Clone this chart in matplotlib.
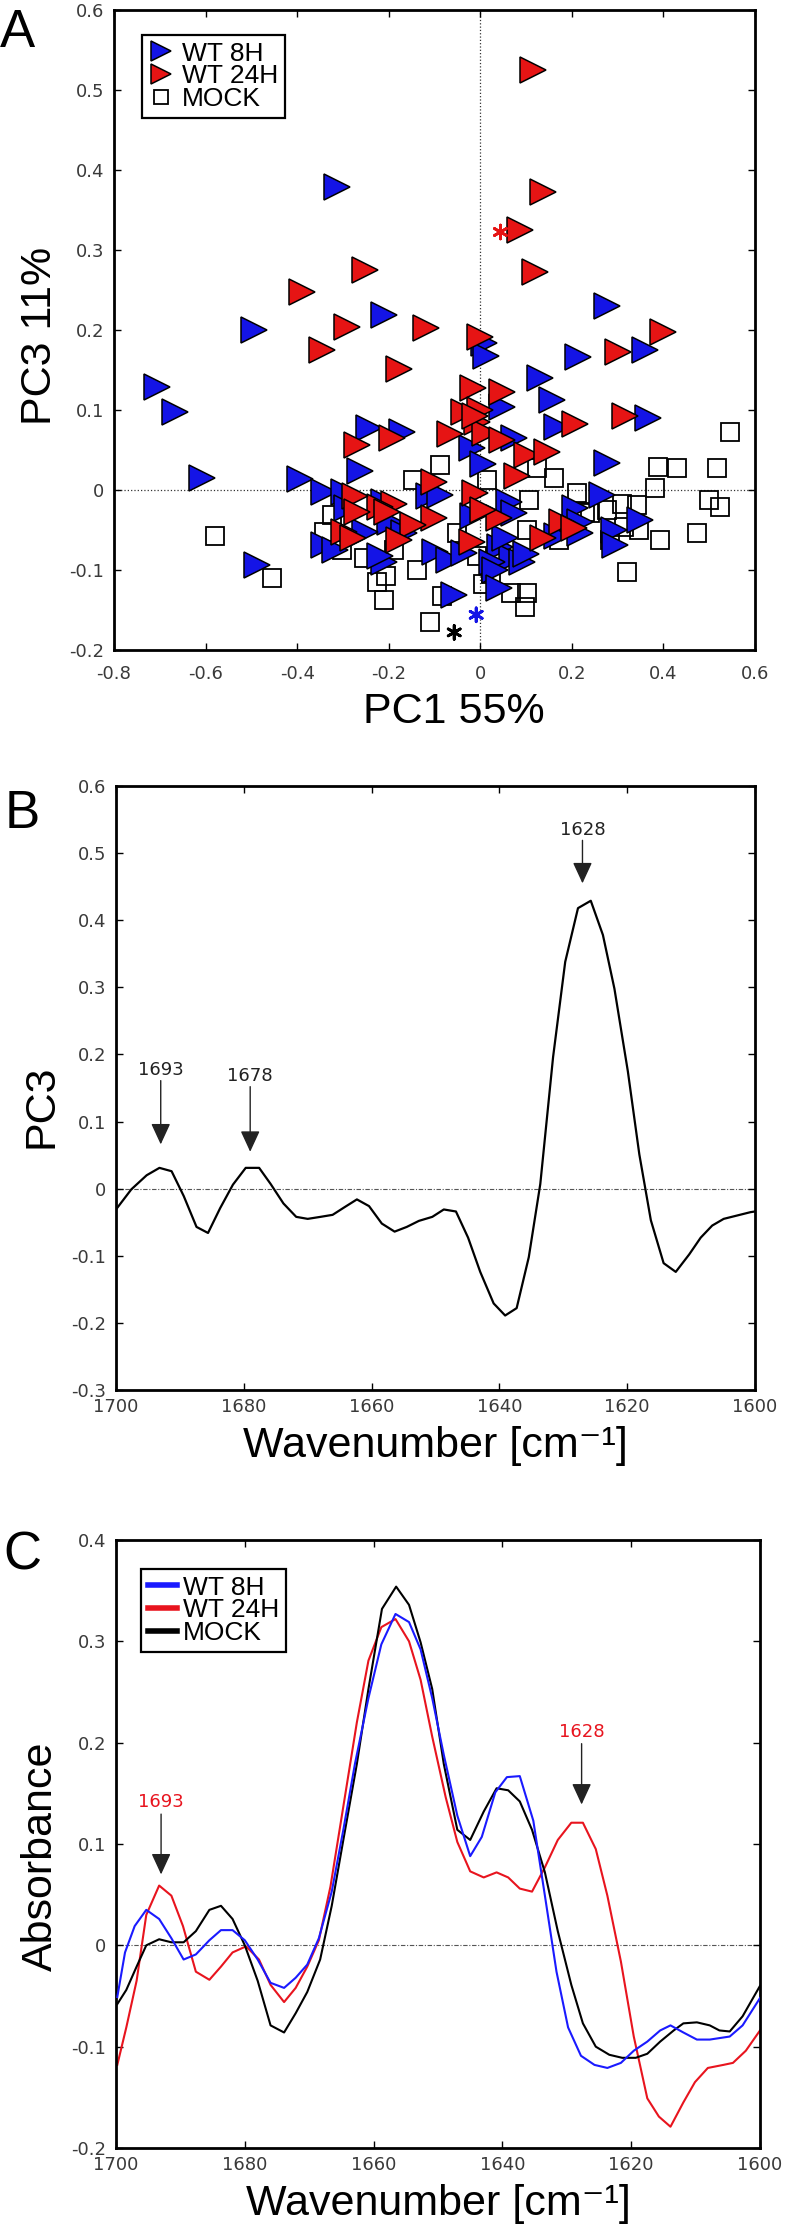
import numpy as np
import matplotlib
matplotlib.use('Agg')
import matplotlib.pyplot as plt
from matplotlib.ticker import FuncFormatter, MultipleLocator

plt.rcParams['axes.unicode_minus'] = False
plt.rcParams['font.family'] = ['Liberation Sans', 'DejaVu Sans']

# ---- Panel A: PCA scores (PC1 vs PC3) ----
wt8h_pc1 = [-0.313, -0.211, -0.495, 0.277, 0.009, 0.013, 0.214, 0.360, 0.131, 0.157,
            0.047, 0.167, 0.367, 0.073, -0.244, -0.171, -0.018, -0.262, 0.277, 0.007,
            -0.706, -0.666, -0.608, -0.393, -0.488, -0.342, -0.298, -0.291, -0.211, -0.197,
            -0.113, -0.087, -0.342, -0.317, -0.251, -0.211, -0.167, -0.218, -0.098, -0.069,
            -0.036, -0.015, 0.062, 0.073, 0.044, 0.069, 0.091, 0.026, 0.033, -0.058,
            0.040, 0.266, 0.349, 0.291, 0.295, 0.207, 0.218, 0.167, 0.218, 0.055, 0.100]
wt8h_pc3 = [0.379, 0.219, 0.200, 0.230, 0.184, 0.168, 0.166, 0.175, 0.140, 0.112,
            0.104, 0.079, 0.090, 0.065, 0.077, 0.072, 0.052, 0.024, 0.034, 0.033,
            0.129, 0.097, 0.015, 0.014, -0.094, -0.002, -0.002, -0.023, -0.015, -0.040,
            -0.008, -0.006, -0.069, -0.075, -0.052, -0.090, -0.054, -0.083, -0.077, -0.088,
            -0.079, -0.033, -0.015, -0.029, -0.071, -0.085, -0.090, -0.090, -0.100, -0.131,
            -0.123, -0.006, -0.038, -0.050, -0.069, -0.023, -0.040, -0.058, -0.054, -0.060, -0.080]

wt24h_pc1 = [-0.251, -0.389, -0.291, -0.346, 0.116, 0.137, 0.087, 0.120, 0.399, -0.118,
             -0.001, 0.301, -0.178, -0.015, -0.036, -0.007, -0.269, -0.193, -0.066, 0.047,
             0.000, 0.207, 0.317, 0.011, 0.047, 0.102, 0.146, -0.011, 0.080, -0.102,
             -0.011, 0.040, 0.007, -0.189, -0.218, -0.102, -0.146, -0.178, -0.018, 0.178,
             0.204, 0.138, -0.273, -0.269, -0.204, -0.298, -0.277]
wt24h_pc3 = [0.275, 0.247, 0.204, 0.175, 0.525, 0.372, 0.325, 0.272, 0.198, 0.203,
             0.191, 0.172, 0.151, 0.127, 0.098, 0.085, 0.056, 0.065, 0.070, 0.123,
             0.100, 0.083, 0.092, 0.071, 0.062, 0.044, 0.048, 0.092, 0.017, 0.010,
             -0.004, -0.035, -0.025, -0.017, -0.021, -0.035, -0.044, -0.062, -0.065, -0.040,
             -0.048, -0.060, -0.008, -0.027, -0.027, -0.052, -0.060]

mock_pc1 = [-0.087, 0.124, 0.389, 0.429, 0.546, 0.517, 0.382, 0.499, 0.524, 0.473,
            0.392, 0.320, 0.342, 0.346, 0.309, 0.277, 0.284, 0.171, 0.211, 0.240,
            0.160, 0.015, -0.146, 0.106, 0.102, -0.189, -0.051, -0.007, -0.138, -0.207,
            -0.211, -0.084, 0.066, 0.102, 0.098, 0.007, -0.109, -0.324, -0.342, -0.302,
            -0.255, -0.226, -0.579, -0.455, 0.229, 0.313, 0.024]
mock_pc3 = [0.031, 0.028, 0.029, 0.027, 0.073, 0.027, 0.002, -0.012, -0.021, -0.054,
            -0.062, -0.102, -0.019, -0.050, -0.017, -0.025, -0.062, -0.062, -0.004, -0.029,
            0.015, 0.012, 0.012, -0.012, -0.050, -0.075, -0.054, -0.083, -0.100, -0.108,
            -0.138, -0.133, -0.129, -0.129, -0.146, -0.117, -0.165, -0.031, -0.052, -0.075,
            -0.085, -0.115, -0.058, -0.110, -0.027, -0.046, -0.105]

# group centroid markers (asterisks)
star_pc1 = [0.044, -0.009, -0.057]
star_pc3 = [0.3225, -0.156, -0.178]
star_colors = ['#e61414', '#1414e6', 'black']

# ---- Panel B: PC3 loading ----
wn_b = [1700, 1697.6, 1695.2, 1693.2, 1691.3, 1689.4, 1687.4, 1685.6, 1683.7, 1681.7,
        1679.7, 1677.6, 1675.8, 1673.8, 1671.8, 1670.0, 1668.0, 1666.1, 1664.3, 1662.3,
        1660.4, 1658.4, 1656.4, 1654.5, 1652.6, 1650.5, 1648.7, 1646.8, 1644.9, 1643.0,
        1640.9, 1639.1, 1637.3, 1635.4, 1633.6, 1631.6, 1629.7, 1627.7, 1625.7, 1623.8,
        1622.0, 1619.9, 1618.1, 1616.3, 1614.3, 1612.4, 1610.3, 1608.5, 1606.7, 1604.9,
        1602.8, 1600.7, 1600]
pc3_b = [-0.031, -0.001, 0.020, 0.031, 0.026, -0.011, -0.057, -0.066, -0.029, 0.006,
         0.031, 0.031, 0.007, -0.022, -0.042, -0.045, -0.042, -0.039, -0.028, -0.016,
         -0.026, -0.052, -0.064, -0.057, -0.048, -0.042, -0.031, -0.034, -0.073, -0.124,
         -0.171, -0.189, -0.178, -0.102, 0.007, 0.196, 0.338, 0.418, 0.429, 0.378,
         0.298, 0.175, 0.051, -0.047, -0.111, -0.124, -0.098, -0.073, -0.055, -0.045,
         -0.040, -0.035, -0.034]

# ---- Panel C: second-derivative absorbance spectra ----
wn_8h = [1699.8, 1698.6, 1697.1, 1695.3, 1693.3, 1691.4, 1689.5, 1687.6, 1685.5, 1683.7,
         1681.9, 1680.0, 1678.0, 1676.0, 1673.9, 1672.1, 1670.3, 1668.5, 1666.5, 1664.7,
         1662.9, 1660.8, 1658.8, 1656.6, 1654.5, 1652.7, 1650.9, 1649.1, 1647.0, 1645.0,
         1643.2, 1641.1, 1639.3, 1637.3, 1635.2, 1633.4, 1631.6, 1629.8, 1627.8, 1625.7,
         1623.7, 1621.6, 1619.6, 1617.5, 1615.5, 1613.9, 1611.9, 1609.8, 1607.8, 1604.7,
         1602.7, 1600.0]
abs_8h = [-0.051, -0.007, 0.019, 0.035, 0.026, 0.007, -0.014, -0.009, 0.005, 0.015,
          0.015, 0.005, -0.014, -0.037, -0.042, -0.032, -0.019, 0.007, 0.053, 0.114,
          0.179, 0.244, 0.297, 0.327, 0.319, 0.292, 0.244, 0.188, 0.128, 0.088,
          0.107, 0.151, 0.166, 0.167, 0.123, 0.049, -0.026, -0.081, -0.109, -0.118,
          -0.121, -0.116, -0.104, -0.095, -0.084, -0.079, -0.086, -0.093, -0.093, -0.090,
          -0.079, -0.052]

wn_24h = [1699.8, 1698.4, 1696.8, 1695.3, 1693.3, 1691.4, 1689.6, 1687.6, 1685.5, 1683.7,
          1681.9, 1679.8, 1677.8, 1676.0, 1673.9, 1672.1, 1670.3, 1668.5, 1666.7, 1664.7,
          1662.6, 1660.8, 1658.8, 1656.6, 1654.5, 1652.7, 1650.9, 1648.8, 1647.0, 1645.0,
          1642.9, 1640.9, 1639.1, 1637.3, 1635.4, 1633.4, 1631.4, 1629.3, 1627.5, 1625.5,
          1623.7, 1621.6, 1619.6, 1617.5, 1615.7, 1613.9, 1611.9, 1610.1, 1608.1, 1605.7,
          1604.2, 1602.2, 1600.0]
abs_24h = [-0.118, -0.081, -0.035, 0.030, 0.059, 0.049, 0.019, -0.026, -0.034, -0.021,
           -0.007, -0.001, -0.014, -0.039, -0.056, -0.042, -0.021, 0.005, 0.058, 0.137,
           0.220, 0.281, 0.314, 0.322, 0.300, 0.262, 0.206, 0.146, 0.102, 0.073,
           0.067, 0.072, 0.067, 0.056, 0.053, 0.077, 0.104, 0.121, 0.121, 0.095,
           0.049, -0.016, -0.090, -0.151, -0.169, -0.179, -0.155, -0.135, -0.121, -0.118,
           -0.116, -0.104, -0.084]

wn_mock = [1699.8, 1698.4, 1696.8, 1695.3, 1693.3, 1691.4, 1689.5, 1687.6, 1685.5, 1683.7,
           1681.9, 1680.0, 1678.0, 1676.0, 1673.9, 1672.1, 1670.3, 1668.3, 1666.5, 1664.7,
           1662.6, 1660.8, 1658.7, 1656.5, 1654.5, 1652.7, 1650.9, 1649.1, 1647.0, 1645.0,
           1642.9, 1640.9, 1639.1, 1637.3, 1635.4, 1633.4, 1631.4, 1629.3, 1627.5, 1625.5,
           1623.4, 1621.4, 1619.3, 1617.5, 1615.5, 1613.4, 1611.9, 1609.8, 1607.8, 1606.3,
           1604.7, 1602.7, 1600.0]
abs_mock = [-0.058, -0.044, -0.021, 0.000, 0.006, 0.003, 0.003, 0.014, 0.035, 0.039,
            0.026, 0.000, -0.035, -0.079, -0.086, -0.067, -0.046, -0.014, 0.039, 0.104,
            0.179, 0.253, 0.332, 0.354, 0.336, 0.299, 0.253, 0.179, 0.114, 0.104,
            0.132, 0.155, 0.153, 0.142, 0.114, 0.072, 0.014, -0.039, -0.077, -0.100,
            -0.108, -0.111, -0.111, -0.107, -0.095, -0.084, -0.077, -0.076, -0.079, -0.084,
            -0.085, -0.070, -0.040]

BLUE = '#1414e6'
RED = '#e61414'
TICK_COLOR = '#3a3a3a'
W, H = 786, 2234


def axes_box(left, top, right, bottom):
    # pixel box -> figure fraction
    return [left / W, 1 - bottom / H, (right - left) / W, (bottom - top) / H]


def fmt(v, pos):
    return '%g' % round(v, 3)


def style_axes(ax):
    for s in ax.spines.values():
        s.set_linewidth(2.0)
    ax.tick_params(direction='in', top=True, right=True, length=5, width=1.0,
                   labelsize=13, labelcolor=TICK_COLOR, pad=7)
    for lab in ax.get_xticklabels() + ax.get_yticklabels():
        lab.set_family('DejaVu Sans')
    ax.xaxis.set_major_formatter(FuncFormatter(fmt))
    ax.yaxis.set_major_formatter(FuncFormatter(fmt))


fig = plt.figure(figsize=(W / 100, H / 100), dpi=100)

# ---------------- A ----------------
ax = fig.add_axes(axes_box(114, 10, 755, 650))
ax.axhline(0, color='#333333', ls=':', lw=0.9, zorder=1)
ax.axvline(0, color='#333333', ls=':', lw=0.9, zorder=1)
ax.plot(mock_pc1, mock_pc3, ls='none', marker='s', ms=13, mfc='none', mec='black',
        mew=1.3, label='MOCK', zorder=2)
ax.plot(wt8h_pc1, wt8h_pc3, ls='none', marker='>', ms=19, mfc=BLUE, mec='black',
        mew=1.1, label='WT 8H', zorder=3)
ax.plot(wt24h_pc1, wt24h_pc3, ls='none', marker='>', ms=19, mfc=RED, mec='black',
        mew=1.1, label='WT 24H', zorder=4)
ax.scatter(star_pc1, star_pc3, marker=(6, 2, 0), s=100, c=star_colors, linewidths=2.0, zorder=5)
ax.set_xlim(-0.8, 0.6)
ax.set_ylim(-0.2, 0.6)
ax.xaxis.set_major_locator(MultipleLocator(0.2))
ax.yaxis.set_major_locator(MultipleLocator(0.1))
style_axes(ax)
ax.tick_params(axis='x', pad=11)
ax.set_xlabel('PC1 55%', fontsize=31)
ax.set_ylabel('PC3 11%', fontsize=31)
ax.xaxis.set_label_coords(0.53, -0.066)
ax.yaxis.set_label_coords(-0.085, 0.49)
h, l = ax.get_legend_handles_labels()
order = [1, 2, 0]
leg = ax.legend([h[i] for i in order], [l[i] for i in order], loc='upper left',
                bbox_to_anchor=(0.044, 0.961), borderaxespad=0, fontsize=19,
                markerscale=0.75, handlelength=0.9, handletextpad=0.35,
                labelspacing=-0.05, borderpad=0.25, fancybox=False, framealpha=1)
leg.get_frame().set_edgecolor('black')
leg.get_frame().set_linewidth(1.6)
fig.text(0.0, 1 - 47 / H, 'A', fontsize=38, va='baseline')

# ---------------- B ----------------
ax = fig.add_axes(axes_box(116, 786, 755, 1390))
ax.axhline(0, color='#555555', ls=(0, (4, 1.5, 1, 1.5)), lw=0.8, zorder=1)
ax.plot(wn_b, pc3_b, color='black', lw=1.6, zorder=2)
ax.set_xlim(1700, 1600)
ax.set_ylim(-0.3, 0.6)
ax.xaxis.set_major_locator(MultipleLocator(20))
ax.yaxis.set_major_locator(MultipleLocator(0.1))
style_axes(ax)
ax.tick_params(axis='x', pad=6)
ax.set_xlabel('Wavenumber [cm\u207b\u00b9]', fontsize=31)
ax.set_ylabel('PC3', fontsize=31)
ax.xaxis.set_label_coords(0.5, -0.06)
ax.yaxis.set_label_coords(-0.085, 0.47)
arrow_b = dict(arrowstyle='-|>,head_length=0.65,head_width=0.3', color='#222222',
               lw=1.0, shrinkA=0, shrinkB=0, mutation_scale=20)
for lab, x, ytxt, ytip in [('1693', 1693, 0.177, 0.066), ('1678', 1679, 0.168, 0.055),
                           ('1628', 1627, 0.535, 0.455)]:
    ax.annotate('', xy=(x, ytip), xytext=(x, ytxt - 0.016), arrowprops=arrow_b)
    ax.text(x, ytxt, lab, ha='center', va='center', fontsize=13, family='DejaVu Sans',
            color='#222222')
fig.text(5 / W, 1 - 828 / H, 'B', fontsize=38, va='baseline')

# ---------------- C ----------------
ax = fig.add_axes(axes_box(116, 1540, 760, 2148))
ax.axhline(0, color='#555555', ls=(0, (4, 1.5, 1, 1.5)), lw=0.8, zorder=1)
ax.plot(wn_8h, abs_8h, color='#1a1aff', lw=1.5, label='WT 8H', zorder=3)
ax.plot(wn_24h, abs_24h, color='#e8141e', lw=1.5, label='WT 24H', zorder=2)
ax.plot(wn_mock, abs_mock, color='black', lw=1.5, label='MOCK', zorder=2)
ax.set_xlim(1700, 1600)
ax.set_ylim(-0.2, 0.4)
ax.xaxis.set_major_locator(MultipleLocator(20))
ax.yaxis.set_major_locator(MultipleLocator(0.1))
style_axes(ax)
ax.tick_params(axis='x', pad=6)
ax.set_xlabel('Wavenumber [cm\u207b\u00b9]', fontsize=31)
ax.set_ylabel('Absorbance', fontsize=31)
ax.xaxis.set_label_coords(0.5, -0.06)
ax.yaxis.set_label_coords(-0.085, 0.48)
leg = ax.legend(loc='upper left', bbox_to_anchor=((141 - 116) / 644, (2148 - 1569) / 608),
                borderaxespad=0, fontsize=19, handlelength=1.1, handletextpad=0.25,
                labelspacing=-0.05, borderpad=0.25, fancybox=False, framealpha=1)
leg.get_frame().set_edgecolor('black')
leg.get_frame().set_linewidth(1.6)
for line in leg.get_lines():
    line.set_linewidth(4.0)
arrow_c = dict(arrowstyle='-|>,head_length=0.65,head_width=0.3', color='#222222',
               lw=1.0, shrinkA=0, shrinkB=0, mutation_scale=20)
for lab, x, ytxt, ytip in [('1693', 1693, 0.1415, 0.070), ('1628', 1627.7, 0.211, 0.139)]:
    ax.annotate('', xy=(x, ytip), xytext=(x, ytxt - 0.012), arrowprops=arrow_c)
    ax.text(x, ytxt, lab, ha='center', va='center', fontsize=13, family='DejaVu Sans',
            color='#e8141e')
fig.text(3 / W, 1 - 1570 / H, 'C', fontsize=38, va='baseline')

fig.savefig('out.png', dpi=100)
